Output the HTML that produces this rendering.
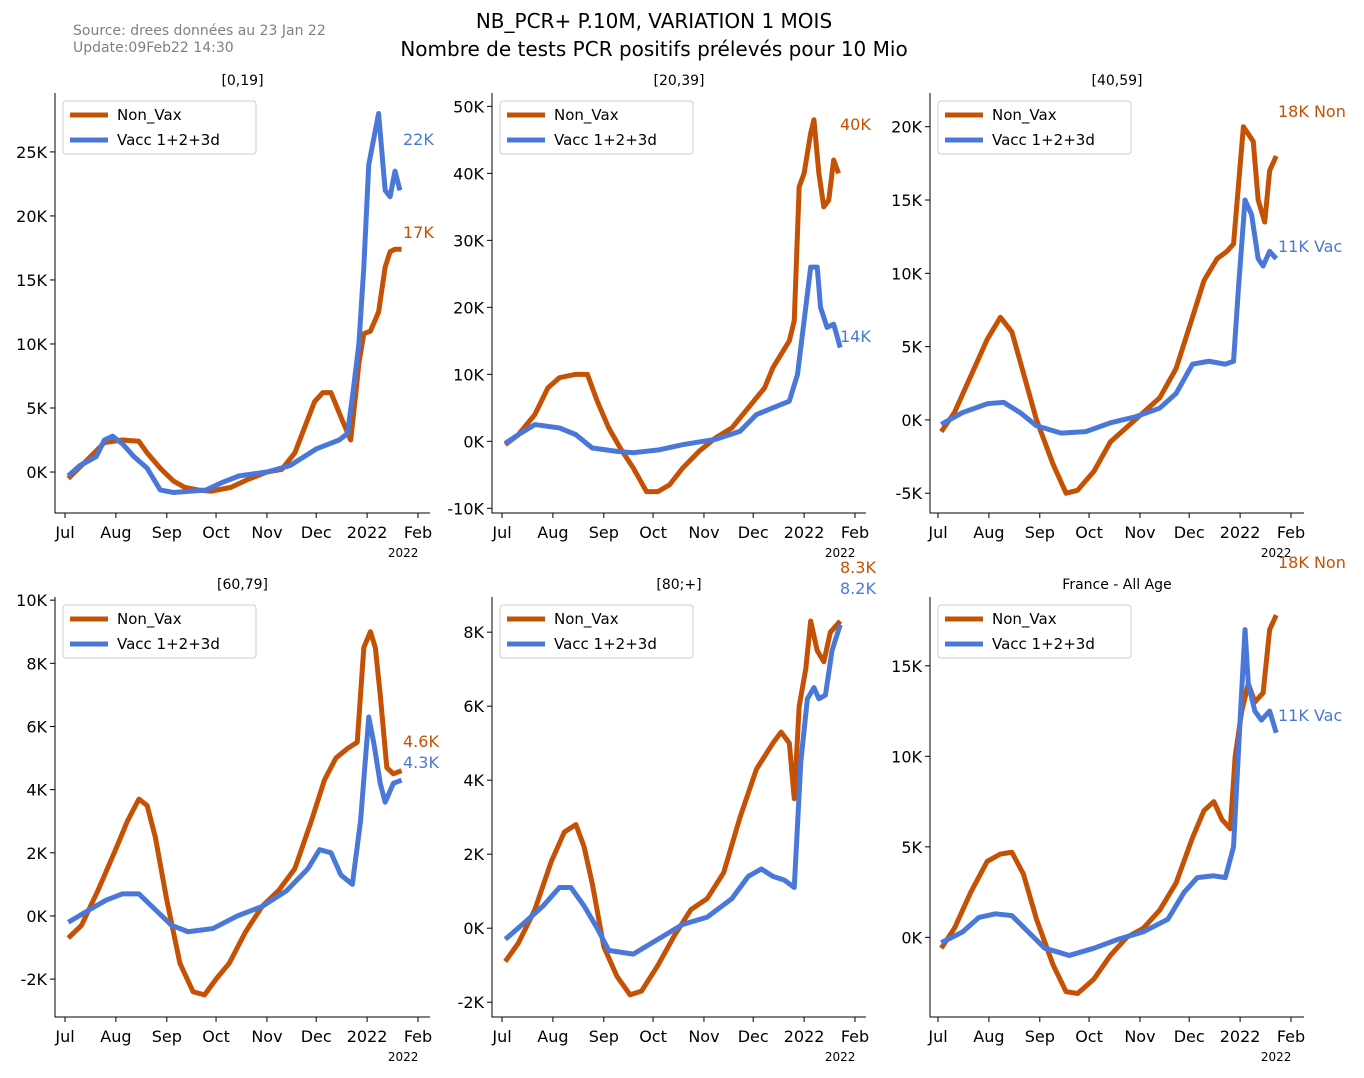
<!DOCTYPE html>
<html><head><meta charset="utf-8"><style>
body{margin:0;background:#fff;font-family:"Liberation Sans","DejaVu Sans",sans-serif}
svg text{font-family:"DejaVu Sans","Liberation Sans",sans-serif}
</style></head><body>
<svg id="c" width="1364" height="1073" xmlns="http://www.w3.org/2000/svg">
<rect width="1364" height="1073" fill="#fff"/>
<text x="73" y="35" font-size="14" fill="#808080">Source: drees données au 23 Jan 22</text>
<text x="73" y="52" font-size="14" fill="#808080">Update:09Feb22 14:30</text>
<text x="654" y="28" font-size="20" text-anchor="middle">NB_PCR+ P.10M, VARIATION 1 MOIS</text>
<text x="654" y="56" font-size="20" text-anchor="middle">Nombre de tests PCR positifs prélevés pour 10 Mio</text>
</svg>
<script>
const monthLabels=["Jul","Aug","Sep","Oct","Nov","Dec","2022","Feb"];
const monthDays=[0,31,62,92,123,153,184,215];
const titles=["[0,19]","[20,39]","[40,59]","[60,79]","[80;+]","France - All Age"];
const nvDays=[
[2,14,24,35,45,50,58,66,73,81,89,101,111,123,132,140,146,152,157,162,169,174,177,179,182,186,191,195,198,201,205],
[2,10,20,28,35,45,52,58,65,72,80,88,95,102,110,120,130,140,150,160,165,175,178,181,184,188,190,193,196,199,202,205],
[2,10,20,30,38,45,50,60,70,78,85,95,105,115,125,135,145,155,162,170,176,180,183,186,189,192,195,199,202,206],
[2,10,20,30,38,45,50,55,62,70,78,85,92,100,110,120,130,140,150,158,165,172,178,182,186,189,192,196,200,205],
[2,10,20,30,38,45,50,55,62,70,78,85,95,105,115,125,135,145,155,165,170,175,178,181,185,188,192,196,200,206],
[2,10,20,30,38,45,52,60,70,78,85,95,105,115,125,135,145,155,162,168,173,178,181,185,189,193,198,202,206]];
const nvVals=[
[-0.5,1,2.3,2.5,2.4,1.5,0.3,-0.7,-1.2,-1.4,-1.5,-1.2,-0.6,0,0.2,1.5,3.5,5.5,6.2,6.2,4,2.5,6,8.5,10.8,11,12.5,16,17.2,17.4,17.4],
[-0.5,1,4,8,9.5,10,10,6,2,-1,-4,-7.5,-7.5,-6.5,-4,-1.5,0.5,2,5,8,11,15,18,38,40,46,48,40,35,36,42,40],
[-0.8,0.5,3,5.5,7,6,4,0,-3,-5,-4.8,-3.5,-1.5,-0.5,0.5,1.5,3.5,7,9.5,11,11.5,12,16,20,19.5,19,15,13.5,17,18],
[-0.7,-0.3,0.8,2,3,3.7,3.5,2.5,0.5,-1.5,-2.4,-2.5,-2,-1.5,-0.5,0.3,0.8,1.5,3,4.3,5,5.3,5.5,8.5,9,8.5,7,4.7,4.5,4.6],
[-0.9,-0.4,0.5,1.8,2.6,2.8,2.2,1.2,-0.5,-1.3,-1.8,-1.7,-1,-0.2,0.5,0.8,1.5,3,4.3,5,5.3,5,3.5,6,7,8.3,7.5,7.2,8,8.3],
[-0.6,0.5,2.5,4.2,4.6,4.7,3.5,1,-1.5,-3,-3.1,-2.3,-1,0,0.5,1.5,3,5.5,7,7.5,6.5,6,10,12.5,14,13,13.5,17,17.8]];
const vDays=[
[2,9,19,24,29,35,42,50,58,66,76,86,96,106,123,137,153,167,172,175,179,182,185,191,195,198,201,204],
[2,10,20,35,45,55,70,80,95,110,130,145,155,165,175,180,184,188,192,194,198,202,206],
[2,15,30,40,50,60,75,90,105,120,135,145,155,165,175,180,183,187,191,195,198,202,206],
[2,15,25,35,45,55,65,75,90,105,120,135,148,155,162,168,175,180,185,188,192,195,200,205],
[2,15,25,35,42,50,58,65,80,95,110,125,140,150,158,165,172,178,182,186,190,193,197,201,206],
[2,15,25,35,45,55,65,80,95,110,125,140,150,158,168,175,180,184,187,189,193,197,202,206]];
const vVals=[
[-0.3,0.5,1.2,2.5,2.8,2.2,1.2,0.3,-1.4,-1.6,-1.5,-1.4,-0.8,-0.3,0,0.5,1.8,2.5,3,5.8,10,16,24,28,22,21.5,23.5,22],
[-0.3,1,2.5,2,1,-1,-1.5,-1.7,-1.3,-0.5,0.3,1.5,4,5,6,10,18,26,26,20,17,17.5,14],
[-0.3,0.5,1.1,1.2,0.5,-0.4,-0.9,-0.8,-0.2,0.2,0.8,1.8,3.8,4,3.8,4,9,15,14,11,10.5,11.5,11],
[-0.2,0.2,0.5,0.7,0.7,0.2,-0.3,-0.5,-0.4,0,0.3,0.8,1.5,2.1,2,1.3,1,3,6.3,5.5,4.2,3.6,4.2,4.3],
[-0.3,0.2,0.6,1.1,1.1,0.6,0,-0.6,-0.7,-0.3,0.1,0.3,0.8,1.4,1.6,1.4,1.3,1.1,4.5,6.2,6.5,6.2,6.3,7.5,8.2],
[-0.3,0.3,1.1,1.3,1.2,0.3,-0.6,-1,-0.6,-0.1,0.3,1,2.5,3.3,3.4,3.3,5,12,17,14,12.5,12,12.5,11.3]];
const yTicks=[[0,5,10,15,20,25],[-10,0,10,20,30,40,50],[-5,0,5,10,15,20],[-2,0,2,4,6,8,10],[-2,0,2,4,6,8],[0,5,10,15]];
const yLimits=[[-3.2,29.6],[-10.7,52],[-6.35,22.3],[-3.2,10.1],[-2.4,8.95],[-4.4,18.8]];
const endNV=["17K","40K","18K Non","4.6K","8.3K","18K Non"];
const endV=["22K","14K","11K Vac","4.3K","8.2K","11K Vac"];
const endNVy=[238,130,117,747,573,568];
const endVy=[145,342,252,768,594,721];
const NS="http://www.w3.org/2000/svg";
const svg=document.getElementById('c');
const OR="#c55104",BL="#4a78d8";
function mk(t,a,p){const e=document.createElementNS(NS,t);for(const k in a)e.setAttribute(k,a[k]);(p||svg).appendChild(e);return e;}
const geo=[{l:55,r:430,x0:65},{l:492,r:866,x0:502},{l:930,r:1304,x0:938}];
for(let i=0;i<6;i++){
  const g0=geo[i%3],top=i<3?93:597,bot=i<3?513:1017;
  const g=mk('g',{});
  
  
  const xs=d=>g0.x0+d*(353/215);
  const lo=yLimits[i][0],hi=yLimits[i][1];
  const ys=v=>bot-(v-lo)/(hi-lo)*(bot-top);
  const t=mk('text',{x:(g0.l+g0.r)/2,y:top-8,'font-size':14,'text-anchor':'middle'},g);t.textContent=titles[i];
  
  const ax=mk('path',{d:`M${g0.l},${top}V${bot}H${g0.r}`,stroke:'#000','stroke-width':1,fill:'none'},g);
  
  monthDays.forEach((d,k)=>{const x=xs(d);
    mk('line',{x1:x,x2:x,y1:bot,y2:bot+5,stroke:'#000'},g);
    const tx=mk('text',{x:x,y:bot+25,'font-size':16,'text-anchor':'middle'},g);tx.textContent=monthLabels[k];
    });
  const yr=mk('text',{x:xs(184)+36,y:bot+44,'font-size':12,'text-anchor':'middle'},g);yr.textContent='2022';
  
  yTicks[i].forEach(v=>{const y=ys(v);
    mk('line',{x1:g0.l-5,x2:g0.l,y1:y,y2:y,stroke:'#000'},g);
    const tx=mk('text',{x:g0.l-8,y:y+6,'font-size':16,'text-anchor':'end'},g);tx.textContent=v+'K';
    });
  const pn=mk('polyline',{points:nvDays[i].map((d,k)=>xs(d)+','+ys(nvVals[i][k])).join(' '),fill:'none',stroke:OR,'stroke-width':5,'stroke-linejoin':'round'},g);
  
  const pv=mk('polyline',{points:vDays[i].map((d,k)=>xs(d)+','+ys(vVals[i][k])).join(' '),fill:'none',stroke:BL,'stroke-width':5,'stroke-linejoin':'round'},g);
  
  const e1=mk('text',{x:g0.l+348,y:endNVy[i],'font-size':16,fill:OR},g);e1.textContent=endNV[i];
  
  const e2=mk('text',{x:g0.l+348,y:endVy[i],'font-size':16,fill:BL},g);e2.textContent=endV[i];
  
  const lg=mk('g',{},g);
  
  const lx=g0.l+8,ly=top+8;
  mk('rect',{x:lx,y:ly,width:193,height:53,rx:3,fill:'#fff',stroke:'#ccc'},lg);
  [[OR,'Non_Vax',14],[BL,'Vacc 1+2+3d',39]].forEach(([c,s,dy])=>{
    mk('line',{x1:lx+7,x2:lx+45,y1:ly+dy,y2:ly+dy,stroke:c,'stroke-width':5},lg);
    const tx=mk('text',{x:lx+54,y:ly+dy+5,'font-size':15},lg);tx.textContent=s;
    });
}
</script>
</body></html>
